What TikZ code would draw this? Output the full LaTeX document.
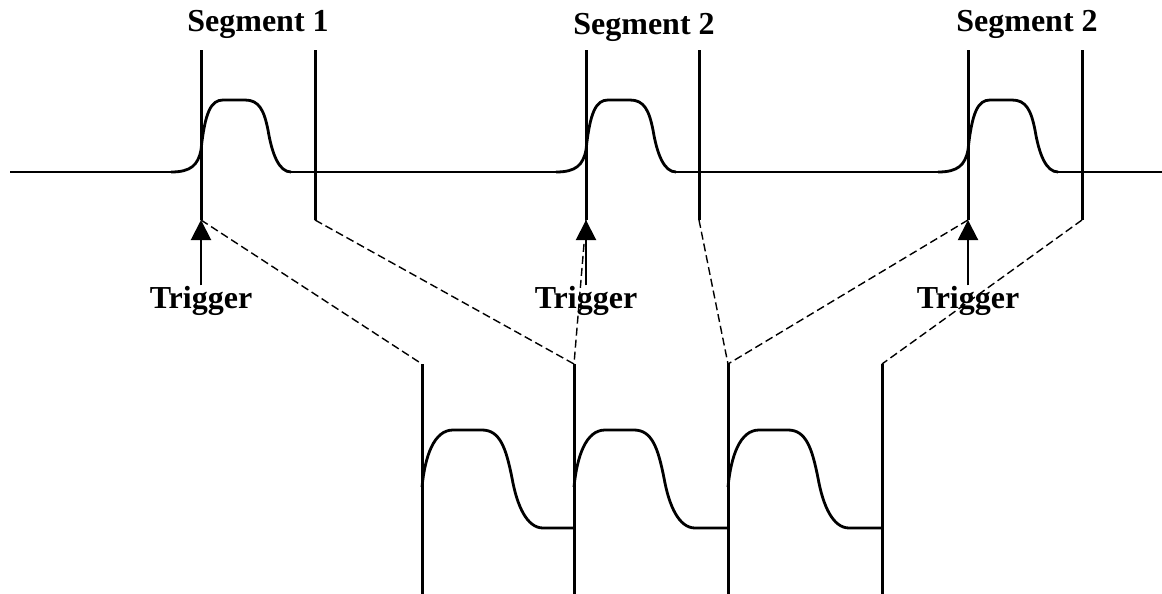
\documentclass[tikz,border=0pt]{standalone}
\usepackage{fontspec}
\setmainfont{Liberation Serif}
\usetikzlibrary{arrows.meta}
\tikzset{
	marker/.style = {line width = 1.5pt},
	wave/.style = {line width = 1.4pt},
	link/.style = {line width = 0.7pt, dash pattern = on 4pt off 2pt},
	trig/.style = {line width = 1pt, -{Triangle[width=10pt, length=10pt]}},
	lbl/.style = {font = \fontsize{16}{18}\selectfont\bfseries, inner sep = 0pt, anchor = base}
}
\begin{document}
\begin{tikzpicture} [x = 0.5pt, y = -0.5pt]
	\useasboundingbox (0,0) rectangle (1162,594);
	% upper trace
	\draw [wave] (10,172) -- (171,172);
	\draw [wave] (291,172) -- (556,172);
	\draw [wave] (676,172) -- (938,172);
	\draw [wave] (1058,172) -- (1162,172);
	\begin{scope} [shift = {(201,172)}]
		\draw [wave] (-30,0) .. controls (-10,0) and (-3,-7) .. (0,-22) .. controls (4,-60) and (10,-72) .. (22,-72) -- (44,-72) .. controls (58,-72) and (63,-62) .. (67,-42) .. controls (71,-18) and (78,0) .. (90,0);
	\end{scope}
	\begin{scope} [shift = {(586,172)}]
		\draw [wave] (-30,0) .. controls (-10,0) and (-3,-7) .. (0,-22) .. controls (4,-60) and (10,-72) .. (22,-72) -- (44,-72) .. controls (58,-72) and (63,-62) .. (67,-42) .. controls (71,-18) and (78,0) .. (90,0);
	\end{scope}
	\begin{scope} [shift = {(968,172)}]
		\draw [wave] (-30,0) .. controls (-10,0) and (-3,-7) .. (0,-22) .. controls (4,-60) and (10,-72) .. (22,-72) -- (44,-72) .. controls (58,-72) and (63,-62) .. (67,-42) .. controls (71,-18) and (78,0) .. (90,0);
	\end{scope}
	% segment markers
	\coordinate (m1l-top) at (201,50);  \coordinate (m1l-bot) at (201,220);
	\coordinate (m1r-top) at (315,50);  \coordinate (m1r-bot) at (315,220);
	\coordinate (m2l-top) at (586,50);  \coordinate (m2l-bot) at (586,220);
	\coordinate (m2r-top) at (699,50);  \coordinate (m2r-bot) at (699,220);
	\coordinate (m3l-top) at (968,50);  \coordinate (m3l-bot) at (968,220);
	\coordinate (m3r-top) at (1082,50); \coordinate (m3r-bot) at (1082,220);
	\draw [marker] (m1l-top) -- (m1l-bot);
	\draw [marker] (m1r-top) -- (m1r-bot);
	\draw [marker] (m2l-top) -- (m2l-bot);
	\draw [marker] (m2r-top) -- (m2r-bot);
	\draw [marker] (m3l-top) -- (m3l-bot);
	\draw [marker] (m3r-top) -- (m3r-bot);
	\node [lbl] (seg1) at (258,32) {Segment 1};
	\node [lbl] (seg2) at (644,34) {Segment 2};
	\node [lbl] (seg3) at (1027,32) {Segment 2};
	% triggers
	\node [lbl] (trig1) at (201,308) {Trigger};
	\node [lbl] (trig2) at (586,308) {Trigger};
	\node [lbl] (trig3) at (968,308) {Trigger};
	\draw [trig] (trig1.north) -- (m1l-bot);
	\draw [trig] (trig2.north) -- (m2l-bot);
	\draw [trig] (trig3.north) -- (m3l-bot);
	% lower trace
	\coordinate (b1-top) at (422,364); \coordinate (b1-bot) at (422,594);
	\coordinate (b2-top) at (574,364); \coordinate (b2-bot) at (574,594);
	\coordinate (b3-top) at (728,364); \coordinate (b3-bot) at (728,594);
	\coordinate (b4-top) at (882,364); \coordinate (b4-bot) at (882,594);
	\draw [marker] (b1-top) -- (b1-bot);
	\draw [marker] (b2-top) -- (b2-bot);
	\draw [marker] (b3-top) -- (b3-bot);
	\draw [marker] (b4-top) -- (b4-bot);
	\begin{scope} [shift = {(422,528)}]
		\draw [wave] (0,-41) .. controls (3,-72) and (12,-98) .. (31,-98) -- (60,-98) .. controls (78,-98) and (84,-80) .. (90,-50) .. controls (95,-22) and (105,0) .. (121,0) -- (152,0);
	\end{scope}
	\begin{scope} [shift = {(574,528)}]
		\draw [wave] (0,-41) .. controls (3,-72) and (12,-98) .. (31,-98) -- (60,-98) .. controls (78,-98) and (84,-80) .. (90,-50) .. controls (95,-22) and (105,0) .. (121,0) -- (154,0);
	\end{scope}
	\begin{scope} [shift = {(728,528)}]
		\draw [wave] (0,-41) .. controls (3,-72) and (12,-98) .. (31,-98) -- (60,-98) .. controls (78,-98) and (84,-80) .. (90,-50) .. controls (95,-22) and (105,0) .. (121,0) -- (154,0);
	\end{scope}
	% mapping
	\draw [link] (m1l-bot) -- (b1-top);
	\draw [link] (m1r-bot) -- (b2-top);
	\draw [link] (m2l-bot) -- (b2-top);
	\draw [link] (m2r-bot) -- (b3-top);
	\draw [link] (m3l-bot) -- (b3-top);
	\draw [link] (m3r-bot) -- (b4-top);
\end{tikzpicture}
\end{document}
